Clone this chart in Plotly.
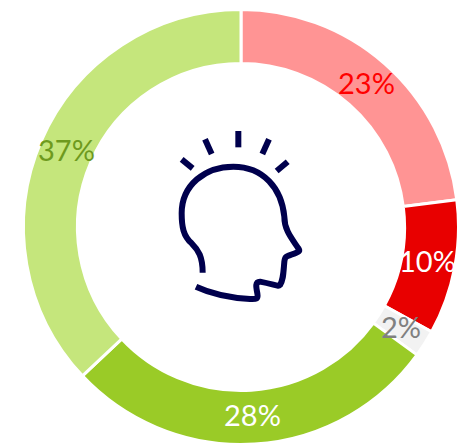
import math
import re
import plotly.graph_objects as go

W, H = 461, 447
labels = ["A", "B", "C", "D", "E"]
values = [23, 10, 2, 28, 37]
slice_colors = ["#FF9494", "#E80000", "#F2F2F2", "#9ACB27", "#C5E67C"]
text_colors = ["#FF0000", "#FFFFFF", "#808080", "#FFFFFF", "#6E9A1E"]
FONT = "Lato"
CX, CY, R_OUT, R_LABEL = 241, 227, 217.5, 190
TEXT_DY = 2

# Head icon, drawn in 3x zoom coordinates of the crop starting at (150,110)
HEAD = ("M158,488 C158,440 145,420 125,400 C100,378 95,350 95,310 C95,225 165,170 250,170 "
        "C340,170 395,235 403,320 C403,360 425,385 445,415 C452,425 445,425 435,430 "
        "C405,440 405,440 403,455 C400,490 400,510 390,525 C385,530 380,525 330,515 "
        "C315,515 318,530 322,550 C325,568 320,568 300,567 C240,563 185,552 138,530")
RAYS = ["M265,63 L265,112", "M165,88 L185,132", "M357,88 L337,132",
        "M95,148 L128,175", "M413,155 L380,183"]


def to_paper(path):
    nums = iter(re.findall(r"[A-Z]|[\d.]+", path))
    out = []
    for tok in nums:
        if tok.isalpha():
            out.append(tok)
        else:
            x = (150 + float(tok) / 3) / W
            y = 1 - (110 + float(next(nums)) / 3) / H
            out.append(f"{x:.5f},{y:.5f}")
    return " ".join(out)


fig = go.Figure(go.Pie(
    labels=labels, values=values, sort=False, direction="clockwise", rotation=0,
    hole=0.752, marker=dict(colors=slice_colors, line=dict(color="#FFFFFF", width=3)),
    textinfo="none", showlegend=False, hoverinfo="skip",
    domain=dict(x=[(CX - R_OUT) / W, (CX + R_OUT) / W],
                y=[1 - (CY + R_OUT) / H, 1 - (CY - R_OUT) / H]),
))

annotations = []
total = sum(values)
cum = 0
for v, c in zip(values, text_colors):
    ang = 2 * math.pi * (cum + v / 2) / total
    cum += v
    annotations.append(dict(
        text=f"{v}%", xref="paper", yref="paper", showarrow=False,
        x=(CX + R_LABEL * math.sin(ang)) / W,
        y=1 - (CY - TEXT_DY - R_LABEL * math.cos(ang)) / H,
        xanchor="center", yanchor="middle",
        font=dict(family=FONT, size=29, color=c),
    ))

shapes = [dict(type="path", path=to_paper(p), xref="paper", yref="paper",
               line=dict(color="#00004D", width=6), fillcolor="rgba(0,0,0,0)")
          for p in [HEAD] + RAYS]
fig.update_layout(width=W, height=H, margin=dict(l=0, r=0, t=0, b=0),
                  paper_bgcolor="#FFFFFF", shapes=shapes, annotations=annotations)
fig.write_html("out.html", config=dict(displayModeBar=False),
               post_script="document.body.style.margin='0';document.documentElement.style.overflow='hidden';")
